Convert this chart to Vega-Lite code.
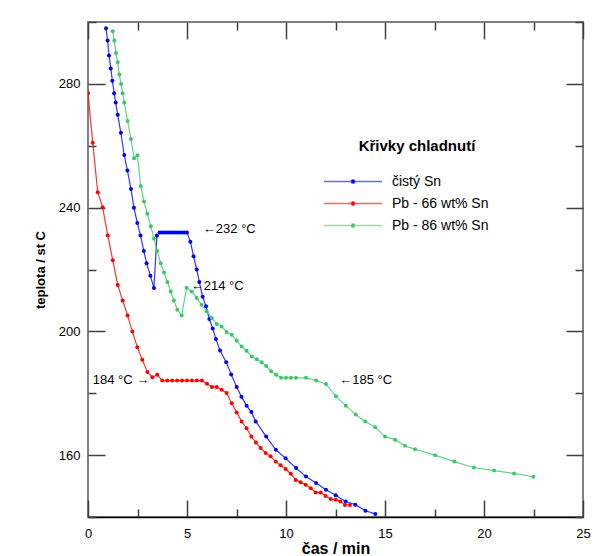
{
  "$schema": "https://vega.github.io/schema/vega-lite/v6.json",
  "autosize": "none",
  "padding": {"left": 88, "top": 22, "right": 16, "bottom": 39},
  "width": 495,
  "height": 495,
  "background": "white",
  "config": {
    "font": "Liberation Sans",
    "view": {"stroke": "#808080", "strokeWidth": 2}
  },
  "datasets": {
    "curves": [
      {"s": "čistý Sn", "t": 0.91, "T": 298},
      {"s": "čistý Sn", "t": 0.99, "T": 294},
      {"s": "čistý Sn", "t": 1.06, "T": 289.2},
      {"s": "čistý Sn", "t": 1.15, "T": 285},
      {"s": "čistý Sn", "t": 1.23, "T": 281},
      {"s": "čistý Sn", "t": 1.32, "T": 277},
      {"s": "čistý Sn", "t": 1.40, "T": 274},
      {"s": "čistý Sn", "t": 1.50, "T": 270},
      {"s": "čistý Sn", "t": 1.66, "T": 264.2},
      {"s": "čistý Sn", "t": 1.83, "T": 257},
      {"s": "čistý Sn", "t": 1.99, "T": 252},
      {"s": "čistý Sn", "t": 2.17, "T": 246},
      {"s": "čistý Sn", "t": 2.32, "T": 240},
      {"s": "čistý Sn", "t": 2.49, "T": 235},
      {"s": "čistý Sn", "t": 2.65, "T": 231},
      {"s": "čistý Sn", "t": 2.82, "T": 226},
      {"s": "čistý Sn", "t": 2.96, "T": 222},
      {"s": "čistý Sn", "t": 3.15, "T": 218},
      {"s": "čistý Sn", "t": 3.33, "T": 214},
      {"s": "čistý Sn", "t": 3.48, "T": 231},
      {"s": "čistý Sn", "t": 3.62, "T": 232},
      {"s": "čistý Sn", "t": 3.74, "T": 232},
      {"s": "čistý Sn", "t": 3.85, "T": 232},
      {"s": "čistý Sn", "t": 3.97, "T": 232},
      {"s": "čistý Sn", "t": 4.08, "T": 232},
      {"s": "čistý Sn", "t": 4.20, "T": 232},
      {"s": "čistý Sn", "t": 4.31, "T": 232},
      {"s": "čistý Sn", "t": 4.43, "T": 232},
      {"s": "čistý Sn", "t": 4.54, "T": 232},
      {"s": "čistý Sn", "t": 4.66, "T": 232},
      {"s": "čistý Sn", "t": 4.77, "T": 232},
      {"s": "čistý Sn", "t": 4.89, "T": 232},
      {"s": "čistý Sn", "t": 5.00, "T": 232},
      {"s": "čistý Sn", "t": 5.17, "T": 229},
      {"s": "čistý Sn", "t": 5.33, "T": 224.3},
      {"s": "čistý Sn", "t": 5.49, "T": 220},
      {"s": "čistý Sn", "t": 5.62, "T": 216},
      {"s": "čistý Sn", "t": 5.79, "T": 211.2},
      {"s": "čistý Sn", "t": 5.96, "T": 208.1},
      {"s": "čistý Sn", "t": 6.13, "T": 204},
      {"s": "čistý Sn", "t": 6.30, "T": 200.9},
      {"s": "čistý Sn", "t": 6.46, "T": 197.5},
      {"s": "čistý Sn", "t": 6.67, "T": 193.8},
      {"s": "čistý Sn", "t": 6.98, "T": 190},
      {"s": "čistý Sn", "t": 7.23, "T": 186.1},
      {"s": "čistý Sn", "t": 7.51, "T": 182},
      {"s": "čistý Sn", "t": 7.75, "T": 178.9},
      {"s": "čistý Sn", "t": 8.01, "T": 176},
      {"s": "čistý Sn", "t": 8.25, "T": 173.9},
      {"s": "čistý Sn", "t": 8.47, "T": 170.9},
      {"s": "čistý Sn", "t": 9.00, "T": 166},
      {"s": "čistý Sn", "t": 9.49, "T": 161.7},
      {"s": "čistý Sn", "t": 9.98, "T": 159},
      {"s": "čistý Sn", "t": 10.51, "T": 155.8},
      {"s": "čistý Sn", "t": 11.01, "T": 153.1},
      {"s": "čistý Sn", "t": 11.52, "T": 151},
      {"s": "čistý Sn", "t": 12.02, "T": 148.8},
      {"s": "čistý Sn", "t": 12.51, "T": 147},
      {"s": "čistý Sn", "t": 13.01, "T": 145},
      {"s": "čistý Sn", "t": 13.50, "T": 144},
      {"s": "čistý Sn", "t": 14.01, "T": 142},
      {"s": "čistý Sn", "t": 14.51, "T": 141},

      {"s": "Pb - 66 wt% Sn", "t": 0.00, "T": 277},
      {"s": "Pb - 66 wt% Sn", "t": 0.24, "T": 261},
      {"s": "Pb - 66 wt% Sn", "t": 0.49, "T": 245},
      {"s": "Pb - 66 wt% Sn", "t": 0.74, "T": 240.1},
      {"s": "Pb - 66 wt% Sn", "t": 1.00, "T": 231},
      {"s": "Pb - 66 wt% Sn", "t": 1.25, "T": 223},
      {"s": "Pb - 66 wt% Sn", "t": 1.50, "T": 215},
      {"s": "Pb - 66 wt% Sn", "t": 1.75, "T": 210},
      {"s": "Pb - 66 wt% Sn", "t": 2.00, "T": 205.1},
      {"s": "Pb - 66 wt% Sn", "t": 2.24, "T": 200},
      {"s": "Pb - 66 wt% Sn", "t": 2.49, "T": 194.9},
      {"s": "Pb - 66 wt% Sn", "t": 2.74, "T": 190.8},
      {"s": "Pb - 66 wt% Sn", "t": 3.00, "T": 186.9},
      {"s": "Pb - 66 wt% Sn", "t": 3.25, "T": 185.2},
      {"s": "Pb - 66 wt% Sn", "t": 3.50, "T": 186},
      {"s": "Pb - 66 wt% Sn", "t": 3.75, "T": 184.1},
      {"s": "Pb - 66 wt% Sn", "t": 4.00, "T": 184.1},
      {"s": "Pb - 66 wt% Sn", "t": 4.25, "T": 184.1},
      {"s": "Pb - 66 wt% Sn", "t": 4.50, "T": 184.1},
      {"s": "Pb - 66 wt% Sn", "t": 4.75, "T": 184.1},
      {"s": "Pb - 66 wt% Sn", "t": 5.00, "T": 184.1},
      {"s": "Pb - 66 wt% Sn", "t": 5.25, "T": 184.1},
      {"s": "Pb - 66 wt% Sn", "t": 5.50, "T": 184.1},
      {"s": "Pb - 66 wt% Sn", "t": 5.75, "T": 184.1},
      {"s": "Pb - 66 wt% Sn", "t": 6.01, "T": 183.1},
      {"s": "Pb - 66 wt% Sn", "t": 6.26, "T": 182},
      {"s": "Pb - 66 wt% Sn", "t": 6.50, "T": 182},
      {"s": "Pb - 66 wt% Sn", "t": 6.75, "T": 181.1},
      {"s": "Pb - 66 wt% Sn", "t": 7.00, "T": 180.1},
      {"s": "Pb - 66 wt% Sn", "t": 7.26, "T": 176.8},
      {"s": "Pb - 66 wt% Sn", "t": 7.51, "T": 173.8},
      {"s": "Pb - 66 wt% Sn", "t": 7.76, "T": 170.9},
      {"s": "Pb - 66 wt% Sn", "t": 8.01, "T": 168.7},
      {"s": "Pb - 66 wt% Sn", "t": 8.25, "T": 166},
      {"s": "Pb - 66 wt% Sn", "t": 8.48, "T": 164.1},
      {"s": "Pb - 66 wt% Sn", "t": 8.72, "T": 162.3},
      {"s": "Pb - 66 wt% Sn", "t": 8.97, "T": 160.7},
      {"s": "Pb - 66 wt% Sn", "t": 9.22, "T": 159.6},
      {"s": "Pb - 66 wt% Sn", "t": 9.48, "T": 157.9},
      {"s": "Pb - 66 wt% Sn", "t": 9.73, "T": 156.7},
      {"s": "Pb - 66 wt% Sn", "t": 9.98, "T": 155.5},
      {"s": "Pb - 66 wt% Sn", "t": 10.24, "T": 154},
      {"s": "Pb - 66 wt% Sn", "t": 10.49, "T": 152},
      {"s": "Pb - 66 wt% Sn", "t": 10.74, "T": 151.2},
      {"s": "Pb - 66 wt% Sn", "t": 10.99, "T": 150.4},
      {"s": "Pb - 66 wt% Sn", "t": 11.25, "T": 149.3},
      {"s": "Pb - 66 wt% Sn", "t": 11.50, "T": 147.9},
      {"s": "Pb - 66 wt% Sn", "t": 11.75, "T": 147.9},
      {"s": "Pb - 66 wt% Sn", "t": 12.00, "T": 146.8},
      {"s": "Pb - 66 wt% Sn", "t": 12.26, "T": 145.8},
      {"s": "Pb - 66 wt% Sn", "t": 12.51, "T": 145.6},
      {"s": "Pb - 66 wt% Sn", "t": 12.74, "T": 145},
      {"s": "Pb - 66 wt% Sn", "t": 12.98, "T": 143.9},
      {"s": "Pb - 66 wt% Sn", "t": 13.23, "T": 143.9},

      {"s": "Pb - 86 wt% Sn", "t": 1.25, "T": 297},
      {"s": "Pb - 86 wt% Sn", "t": 1.33, "T": 294},
      {"s": "Pb - 86 wt% Sn", "t": 1.41, "T": 290},
      {"s": "Pb - 86 wt% Sn", "t": 1.50, "T": 287},
      {"s": "Pb - 86 wt% Sn", "t": 1.58, "T": 283},
      {"s": "Pb - 86 wt% Sn", "t": 1.67, "T": 280},
      {"s": "Pb - 86 wt% Sn", "t": 1.75, "T": 277},
      {"s": "Pb - 86 wt% Sn", "t": 1.83, "T": 274},
      {"s": "Pb - 86 wt% Sn", "t": 2.00, "T": 268},
      {"s": "Pb - 86 wt% Sn", "t": 2.17, "T": 262.2},
      {"s": "Pb - 86 wt% Sn", "t": 2.33, "T": 256},
      {"s": "Pb - 86 wt% Sn", "t": 2.50, "T": 256.9},
      {"s": "Pb - 86 wt% Sn", "t": 2.66, "T": 247},
      {"s": "Pb - 86 wt% Sn", "t": 2.83, "T": 242},
      {"s": "Pb - 86 wt% Sn", "t": 3.00, "T": 238},
      {"s": "Pb - 86 wt% Sn", "t": 3.17, "T": 234},
      {"s": "Pb - 86 wt% Sn", "t": 3.33, "T": 230},
      {"s": "Pb - 86 wt% Sn", "t": 3.50, "T": 226},
      {"s": "Pb - 86 wt% Sn", "t": 3.67, "T": 222},
      {"s": "Pb - 86 wt% Sn", "t": 3.84, "T": 219},
      {"s": "Pb - 86 wt% Sn", "t": 4.01, "T": 216},
      {"s": "Pb - 86 wt% Sn", "t": 4.18, "T": 212.9},
      {"s": "Pb - 86 wt% Sn", "t": 4.34, "T": 210},
      {"s": "Pb - 86 wt% Sn", "t": 4.51, "T": 207},
      {"s": "Pb - 86 wt% Sn", "t": 4.73, "T": 205.1},
      {"s": "Pb - 86 wt% Sn", "t": 4.98, "T": 214.1},
      {"s": "Pb - 86 wt% Sn", "t": 5.24, "T": 212.9},
      {"s": "Pb - 86 wt% Sn", "t": 5.49, "T": 210.8},
      {"s": "Pb - 86 wt% Sn", "t": 5.74, "T": 208.6},
      {"s": "Pb - 86 wt% Sn", "t": 5.99, "T": 206.5},
      {"s": "Pb - 86 wt% Sn", "t": 6.25, "T": 204.3},
      {"s": "Pb - 86 wt% Sn", "t": 6.50, "T": 202.4},
      {"s": "Pb - 86 wt% Sn", "t": 6.75, "T": 201.6},
      {"s": "Pb - 86 wt% Sn", "t": 7.00, "T": 199.8},
      {"s": "Pb - 86 wt% Sn", "t": 7.26, "T": 198.9},
      {"s": "Pb - 86 wt% Sn", "t": 7.51, "T": 197},
      {"s": "Pb - 86 wt% Sn", "t": 7.76, "T": 195.1},
      {"s": "Pb - 86 wt% Sn", "t": 8.01, "T": 193.7},
      {"s": "Pb - 86 wt% Sn", "t": 8.27, "T": 191.9},
      {"s": "Pb - 86 wt% Sn", "t": 8.52, "T": 191},
      {"s": "Pb - 86 wt% Sn", "t": 8.77, "T": 190},
      {"s": "Pb - 86 wt% Sn", "t": 9.00, "T": 188.8},
      {"s": "Pb - 86 wt% Sn", "t": 9.25, "T": 187.1},
      {"s": "Pb - 86 wt% Sn", "t": 9.50, "T": 186},
      {"s": "Pb - 86 wt% Sn", "t": 9.75, "T": 185},
      {"s": "Pb - 86 wt% Sn", "t": 10.00, "T": 185},
      {"s": "Pb - 86 wt% Sn", "t": 10.25, "T": 185},
      {"s": "Pb - 86 wt% Sn", "t": 10.50, "T": 185},
      {"s": "Pb - 86 wt% Sn", "t": 11.01, "T": 185},
      {"s": "Pb - 86 wt% Sn", "t": 11.52, "T": 184.1},
      {"s": "Pb - 86 wt% Sn", "t": 12.02, "T": 183},
      {"s": "Pb - 86 wt% Sn", "t": 12.52, "T": 179},
      {"s": "Pb - 86 wt% Sn", "t": 13.02, "T": 176},
      {"s": "Pb - 86 wt% Sn", "t": 13.52, "T": 173.1},
      {"s": "Pb - 86 wt% Sn", "t": 14.00, "T": 170.9},
      {"s": "Pb - 86 wt% Sn", "t": 14.50, "T": 169},
      {"s": "Pb - 86 wt% Sn", "t": 15.00, "T": 166},
      {"s": "Pb - 86 wt% Sn", "t": 15.51, "T": 165},
      {"s": "Pb - 86 wt% Sn", "t": 16.01, "T": 163},
      {"s": "Pb - 86 wt% Sn", "t": 16.52, "T": 161.9},
      {"s": "Pb - 86 wt% Sn", "t": 17.53, "T": 160},
      {"s": "Pb - 86 wt% Sn", "t": 18.50, "T": 157.9},
      {"s": "Pb - 86 wt% Sn", "t": 19.49, "T": 156},
      {"s": "Pb - 86 wt% Sn", "t": 20.51, "T": 155},
      {"s": "Pb - 86 wt% Sn", "t": 21.52, "T": 154.1},
      {"s": "Pb - 86 wt% Sn", "t": 22.49, "T": 153}
    ],
    "notes": [
      {"t": 5.8, "T": 233.1, "label": "←232 °C"},
      {"t": 5.19, "T": 214.6, "label": "←214 °C"},
      {"t": 0.24, "T": 184.2, "label": "184 °C →"},
      {"t": 12.69, "T": 184.4, "label": "←185 °C"}
    ]
  },
  "resolve": {"axis": {"x": "independent", "y": "independent"}},
  "layer": [
    {
      "data": {"name": "curves"},
      "mark": {"type": "line", "strokeWidth": 1.2, "strokeOpacity": 0.8, "clip": true},
      "encoding": {
        "x": {
          "field": "t", "type": "quantitative",
          "scale": {"domain": [0, 25], "nice": false, "zero": false},
          "axis": {
            "orient": "bottom",
            "title": "čas / min",
            "titleFontSize": 16, "titleFontWeight": "bold", "titleColor": "black", "titlePadding": -9,
            "values": [0, 2.5, 5, 7.5, 10, 12.5, 15, 17.5, 20, 22.5, 25],
            "labelExpr": "datum.value % 5 === 0 ? datum.label : ''",
            "labelFontSize": 13, "labelColor": "black", "labelFlush": false, "labelOverlap": false,
            "labelPadding": 27,
            "tickSize": {"condition": {"test": "datum.value % 5 === 0", "value": -17}, "value": -8},
            "tickColor": "#404040", "tickWidth": 1.5,
            "domain": true, "domainColor": "black", "domainWidth": 1.5,
            "grid": false
          }
        },
        "y": {
          "field": "T", "type": "quantitative",
          "scale": {"domain": [140, 300], "nice": false, "zero": false},
          "axis": {
            "orient": "left",
            "title": "teplota / st C",
            "titleFontSize": 13, "titleFontWeight": "bold", "titleColor": "black", "titlePadding": 11,
            "values": [140, 160, 180, 200, 220, 240, 260, 280, 300],
            "labelExpr": "(datum.value - 160) % 40 === 0 ? datum.label : ''",
            "labelFontSize": 13, "labelColor": "black", "labelFlush": false, "labelOverlap": false,
            "labelPadding": 25,
            "tickSize": {"condition": {"test": "(datum.value - 160) % 40 === 0", "value": -17}, "value": -8},
            "tickColor": "#404040", "tickWidth": 1.5,
            "domain": false,
            "grid": false
          }
        },
        "color": {
          "field": "s", "type": "nominal",
          "scale": {"domain": ["čistý Sn", "Pb - 66 wt% Sn", "Pb - 86 wt% Sn"], "range": ["#0000ff", "#ff0000", "#3cc86a"]},
          "legend": {
            "orient": "none", "legendX": 258, "legendY": 116.5,
            "title": "Křivky chladnutí",
            "titleFontSize": 15, "titleFontWeight": "bold", "titleColor": "black", "titleAnchor": "middle", "titlePadding": 21,
            "labelFontSize": 14, "labelColor": "black", "labelOffset": 32,
            "symbolType": "M-5.8,0H5.8M0.35,0A0.35,0.35,0,1,1,-0.35,0A0.35,0.35,0,1,1,0.35,0Z",
            "symbolSize": 100, "symbolStrokeWidth": 1.5, "rowPadding": 8, "padding": 0,
            "encode": {
              "symbols": {
                "update": {
                  "fill": {"scale": "color", "field": "value"},
                  "stroke": {"scale": "color", "field": "value"},
                  "fillOpacity": {"value": 1},
                  "strokeOpacity": {"value": 0.6}
                }
              }
            }
          }
        }
      }
    },
    {
      "data": {"name": "curves"},
      "mark": {"type": "point", "filled": true, "size": 16, "opacity": 1, "clip": true},
      "encoding": {
        "x": {
          "field": "t", "type": "quantitative",
          "scale": {"domain": [0, 25], "nice": false, "zero": false},
          "axis": {
            "orient": "top", "title": null, "labels": false,
            "values": [0, 2.5, 5, 7.5, 10, 12.5, 15, 17.5, 20, 22.5, 25],
            "tickSize": {"condition": {"test": "datum.value % 5 === 0", "value": -17}, "value": -8},
            "tickColor": "#404040", "tickWidth": 1.5,
            "domain": false, "grid": false
          }
        },
        "y": {
          "field": "T", "type": "quantitative",
          "scale": {"domain": [140, 300], "nice": false, "zero": false},
          "axis": {
            "orient": "right", "title": null, "labels": false,
            "values": [140, 160, 180, 200, 220, 240, 260, 280, 300],
            "tickSize": {"condition": {"test": "(datum.value - 160) % 40 === 0", "value": -17}, "value": -8},
            "tickColor": "#404040", "tickWidth": 1.5,
            "domain": false, "grid": false
          }
        },
        "color": {
          "field": "s", "type": "nominal",
          "scale": {"domain": ["čistý Sn", "Pb - 66 wt% Sn", "Pb - 86 wt% Sn"], "range": ["#0000ff", "#ff0000", "#3cc86a"]},
          "legend": {
            "orient": "none", "legendX": 258, "legendY": 116.5,
            "title": "Křivky chladnutí",
            "titleFontSize": 15, "titleFontWeight": "bold", "titleColor": "black", "titleAnchor": "middle", "titlePadding": 21,
            "labelFontSize": 14, "labelColor": "black", "labelOffset": 32,
            "symbolType": "M-5.8,0H5.8M0.35,0A0.35,0.35,0,1,1,-0.35,0A0.35,0.35,0,1,1,0.35,0Z",
            "symbolSize": 100, "symbolStrokeWidth": 1.5, "rowPadding": 8, "padding": 0,
            "encode": {
              "symbols": {
                "update": {
                  "fill": {"scale": "color", "field": "value"},
                  "stroke": {"scale": "color", "field": "value"},
                  "fillOpacity": {"value": 1},
                  "strokeOpacity": {"value": 0.6}
                }
              }
            }
          }
        }
      }
    },
    {
      "data": {"name": "notes"},
      "mark": {"type": "text", "align": "left", "baseline": "middle", "fontSize": 13, "color": "black"},
      "encoding": {
        "x": {"field": "t", "type": "quantitative", "axis": null},
        "y": {"field": "T", "type": "quantitative", "axis": null},
        "text": {"field": "label"}
      }
    }
  ]
}
